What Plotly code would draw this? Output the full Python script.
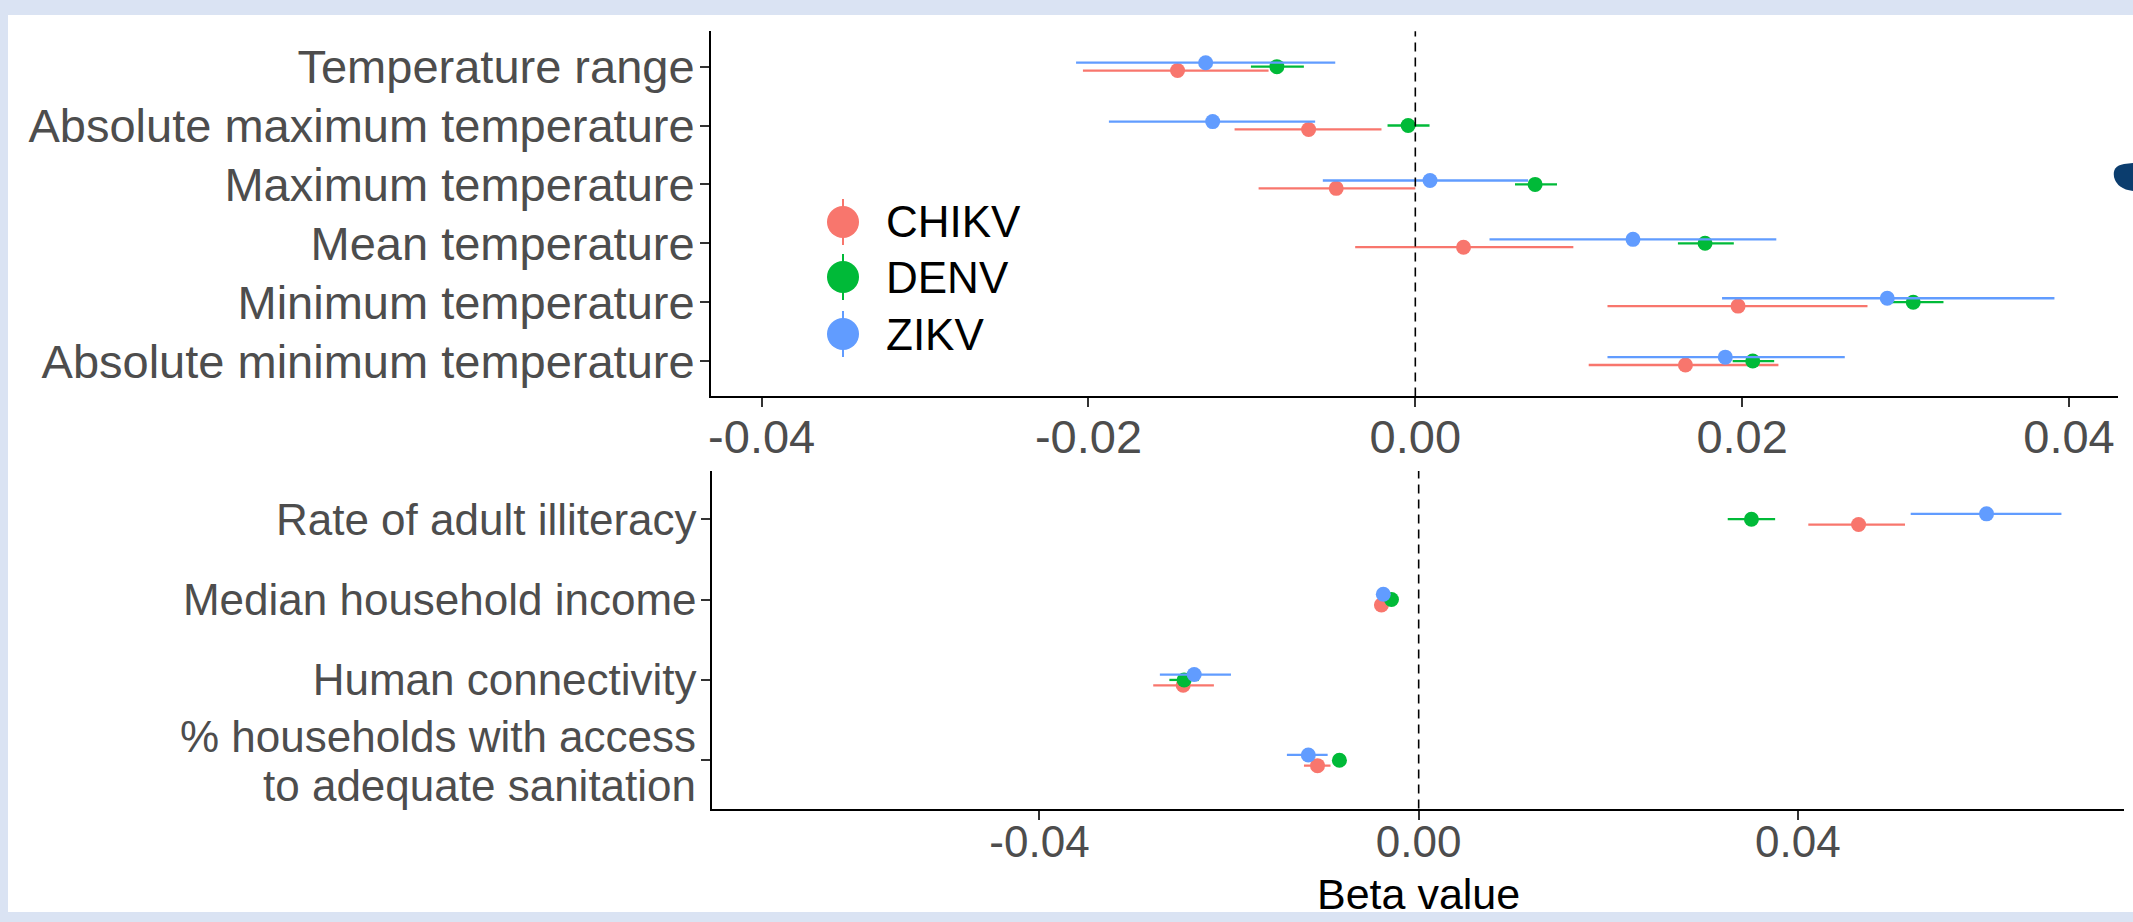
import plotly.graph_objects as go

W, H = 2133, 922

# ---------------- data ----------------
viruses = ["CHIKV", "DENV", "ZIKV"]
virus_colors = ["#F8766D", "#00BA38", "#619CFF"]

top_categories = ["Temperature range", "Absolute maximum temperature", "Maximum temperature",
                  "Mean temperature", "Minimum temperature", "Absolute minimum temperature"]
top_beta = {
    "CHIKV": [-0.01455, -0.00653, -0.00484, 0.00295, 0.01975, 0.01653],
    "DENV":  [-0.00847, -0.00044, 0.00733, 0.01773, 0.03047, 0.02065],
    "ZIKV":  [-0.01283, -0.01240, 0.00090, 0.01332, 0.02888, 0.01897],
}
top_lower = {
    "CHIKV": [-0.02034, -0.01106, -0.00959, -0.00368, 0.01176, 0.01061],
    "DENV":  [-0.01006, -0.00170, 0.00610, 0.01607, 0.02870, 0.01942],
    "ZIKV":  [-0.02076, -0.01875, -0.00566, 0.00454, 0.01877, 0.01176],
}
top_upper = {
    "CHIKV": [-0.00898, -0.00207, 0.00000, 0.00967, 0.02767, 0.02222],
    "DENV":  [-0.00682, 0.00087, 0.00867, 0.01949, 0.03232, 0.02196],
    "ZIKV":  [-0.00490, -0.00613, 0.00690, 0.02209, 0.03911, 0.02628],
}
top_xticks = [-0.04, -0.02, 0.0, 0.02, 0.04]
top_xticklabels = ["-0.04", "-0.02", "0.00", "0.02", "0.04"]

bottom_categories = ["Rate of adult illiteracy", "Median household income", "Human connectivity",
                     "% households with access", "to adequate sanitation"]
bottom_beta = {
    "CHIKV": [0.0464, -0.00393, -0.02484, -0.01067],
    "DENV":  [0.0351, -0.00287, -0.02474, -0.00836],
    "ZIKV":  [0.0599, -0.00373, -0.02368, -0.01164],
}
bottom_lower = {
    "CHIKV": [0.0411, -0.0044, -0.0280, -0.0121],
    "DENV":  [0.0326, -0.0033, -0.0263, -0.0090],
    "ZIKV":  [0.0519, -0.0042, -0.0273, -0.0139],
}
bottom_upper = {
    "CHIKV": [0.0513, -0.0035, -0.0216, -0.0093],
    "DENV":  [0.0376, -0.0024, -0.0232, -0.0077],
    "ZIKV":  [0.0678, -0.0033, -0.0198, -0.0096],
}
bottom_xticks = [-0.04, 0.0, 0.04]
bottom_xticklabels = ["-0.04", "0.00", "0.04"]
x_title = "Beta value"

# ---------------- helpers ----------------
def px(x):
    return x / W

def py(y):
    return 1 - y / H

dodge = [-0.0667, 0.0, 0.0667]
FONT = "Liberation Sans, Arial, sans-serif"
TICK_GREY = "#4D4D4D"

fig = go.Figure()

n_top = len(top_categories)
top_pos = list(range(n_top, 0, -1))
n_bot = 4
bot_pos = list(range(n_bot, 0, -1))

def add_panel(beta, lower, upper, pos, xa, ya):
    for i, v in enumerate(viruses):
        b, lo, hi = beta[v], lower[v], upper[v]
        fig.add_trace(go.Scatter(
            x=b, y=[p + dodge[i] for p in pos], mode="markers", name=v,
            marker=dict(size=15, color=virus_colors[i]),
            error_x=dict(type="data", symmetric=False,
                         array=[h - m for h, m in zip(hi, b)],
                         arrayminus=[m - l for m, l in zip(b, lo)],
                         color=virus_colors[i], thickness=2.3, width=0),
            xaxis=xa, yaxis=ya, showlegend=False))

add_panel(top_beta, top_lower, top_upper, top_pos, "x", "y")
add_panel(bottom_beta, bottom_lower, bottom_upper, bot_pos, "x2", "y2")

axis_common = dict(showgrid=False, zeroline=False, showline=True, linecolor="black",
                   linewidth=2, ticks="outside", ticklen=9, tickwidth=1.6,
                   tickcolor="#333333", automargin=False)

shapes = [
    # slide frame (white area)
    dict(type="rect", xref="paper", yref="paper", x0=px(8), x1=px(W + 5), y0=py(912), y1=py(15),
         fillcolor="white", line=dict(width=0), layer="below"),
    # zero reference lines
    dict(type="line", xref="x", yref="y domain", x0=0, x1=0, y0=0, y1=1,
         line=dict(color="black", width=1.6, dash="9px,6px")),
    dict(type="line", xref="x2", yref="y2 domain", x0=0, x1=0, y0=0, y1=1,
         line=dict(color="black", width=1.6, dash="9px,6px")),
    # slide decoration at right edge
    dict(type="path", xref="paper", yref="paper",
         path="M {:.5f},{:.5f} L {:.5f},{:.5f} Q {:.5f},{:.5f} {:.5f},{:.5f} Q {:.5f},{:.5f} {:.5f},{:.5f} Z".format(
             px(W), py(163), px(2124), py(164), px(2112), py(166), px(2114), py(177),
             px(2117), py(189), px(W), py(191)),
         fillcolor="#0B3D6E", line=dict(width=0)),
]

annotations = []
# manual legend
legend_y = [222, 277, 334]
for i, v in enumerate(viruses):
    cx, cy = 843, legend_y[i]
    shapes.append(dict(type="line", xref="paper", yref="paper", x0=px(cx), x1=px(cx),
                       y0=py(cy - 23), y1=py(cy + 23),
                       line=dict(color=virus_colors[i], width=2)))
    shapes.append(dict(type="circle", xref="paper", yref="paper",
                       x0=px(cx - 16), x1=px(cx + 16), y0=py(cy + 16), y1=py(cy - 16),
                       fillcolor=virus_colors[i], line=dict(width=0)))
    annotations.append(dict(text=v, xref="paper", yref="paper", x=px(884), y=py(cy),
                            xanchor="left", yanchor="middle", showarrow=False,
                            font=dict(size=44, color="black", family=FONT)))

# two-line tick label for the sanitation category
annotations.append(dict(text=bottom_categories[3], xref="paper", yref="y2", x=px(698), y=1.29,
                        xanchor="right", yanchor="middle", showarrow=False,
                        font=dict(size=44, color=TICK_GREY, family=FONT)))
annotations.append(dict(text=bottom_categories[4], xref="paper", yref="y2", x=px(698), y=0.69,
                        xanchor="right", yanchor="middle", showarrow=False,
                        font=dict(size=44, color=TICK_GREY, family=FONT)))
# x-axis title
annotations.append(dict(text=x_title, xref="paper", yref="paper", x=px(1418), y=py(894),
                        xanchor="center", yanchor="middle", showarrow=False,
                        font=dict(size=43, color="black", family=FONT)))

fig.update_layout(
    width=W, height=H,
    margin=dict(l=0, r=0, t=0, b=0),
    paper_bgcolor="#DAE3F3",
    plot_bgcolor="white",
    font=dict(family=FONT),
    showlegend=False,
    xaxis=dict(domain=[px(711), px(2118)], range=[-0.0431, 0.0430], anchor="y",
               tickvals=top_xticks, ticktext=top_xticklabels, ticklabelstandoff=-11,
               tickfont=dict(size=47, color=TICK_GREY, family=FONT), **axis_common),
    yaxis=dict(domain=[py(396.4), py(31.3)], range=[0.4, n_top + 0.6], anchor="x",
               tickvals=top_pos, ticktext=top_categories, ticklabelstandoff=-4,
               tickfont=dict(size=47, color=TICK_GREY, family=FONT), **axis_common),
    xaxis2=dict(domain=[px(712.4), px(2124)], range=[-0.0745, 0.0744], anchor="y2",
                tickvals=bottom_xticks, ticktext=bottom_xticklabels, ticklabelstandoff=-15,
                tickfont=dict(size=44, color=TICK_GREY, family=FONT), **axis_common),
    yaxis2=dict(domain=[py(808.5), py(471)], range=[0.4, n_bot + 0.6], anchor="x2",
                tickvals=bot_pos, ticktext=bottom_categories[:3] + [""], ticklabelstandoff=-4,
                tickfont=dict(size=44, color=TICK_GREY, family=FONT), **axis_common),
    shapes=shapes,
    annotations=annotations,
)

fig.write_html("out.html", config={"displayModeBar": False},
               post_script="document.body.style.margin='0';document.body.style.overflow='hidden';")
